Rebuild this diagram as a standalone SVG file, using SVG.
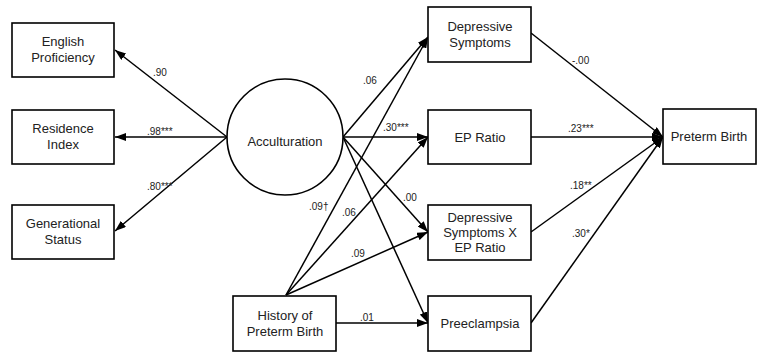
<svg xmlns="http://www.w3.org/2000/svg" width="758" height="356" viewBox="0 0 758 356">
<defs>
<marker id="ah" markerUnits="userSpaceOnUse" markerWidth="11" markerHeight="8" refX="11" refY="4" orient="auto">
<path d="M0,0 L11,4 L0,8 z" fill="#000"/>
</marker>
<style>
.box{fill:#fff;stroke:#000;stroke-width:1.6}
.lbl{font-family:"Liberation Sans",Arial,sans-serif;font-size:13px;fill:#222;text-anchor:middle}
.el{font-family:"Liberation Sans",Arial,sans-serif;font-size:10px;fill:#222}
.c{fill:none;stroke:#000;stroke-width:1.5;marker-end:url(#ah)}
</style>
</defs>
<rect width="758" height="356" fill="#fff"/>
<g id="connectors">
<line class="c" x1="227" y1="137" x2="115" y2="50"/>
<line class="c" x1="227" y1="137" x2="115" y2="137"/>
<line class="c" x1="227" y1="137" x2="115" y2="231"/>
<line class="c" x1="343" y1="137" x2="428" y2="37"/>
<line class="c" x1="343" y1="137" x2="428" y2="137"/>
<line class="c" x1="343" y1="137" x2="428" y2="232"/>
<line class="c" x1="343" y1="137" x2="428" y2="323"/>
<line class="c" x1="286" y1="295" x2="428" y2="37"/>
<line class="c" x1="286" y1="295" x2="428" y2="137"/>
<line class="c" x1="286" y1="295" x2="428" y2="232"/>
<line class="c" x1="336" y1="323" x2="428" y2="323"/>
<line class="c" x1="531" y1="33" x2="663" y2="137"/>
<line class="c" x1="531" y1="137" x2="663" y2="137"/>
<line class="c" x1="531" y1="232" x2="663" y2="137"/>
<line class="c" x1="531" y1="323" x2="663" y2="137"/>
<text class="el" x="153" y="76">.90</text>
<text class="el" x="147" y="135">.98***</text>
<text class="el" x="147" y="190">.80***</text>
<text class="el" x="363" y="84">.06</text>
<text class="el" x="383" y="131">.30***</text>
<text class="el" x="403" y="201">.00</text>
<text class="el" x="309" y="210">.09†</text>
<text class="el" x="342" y="216">.06</text>
<text class="el" x="351" y="257">.09</text>
<text class="el" x="360" y="321">.01</text>
<text class="el" x="572" y="64">-.00</text>
<text class="el" x="568" y="132">.23***</text>
<text class="el" x="570" y="189">.18**</text>
<text class="el" x="572" y="237">.30*</text>
</g>
<g id="english">
<rect class="box" x="12" y="23" width="102" height="54"/>
<text class="lbl" x="63" y="46">English</text>
<text class="lbl" x="63" y="62">Proficiency</text>
</g>
<g id="residence">
<rect class="box" x="12" y="110" width="102" height="54"/>
<text class="lbl" x="63" y="133">Residence</text>
<text class="lbl" x="63" y="149">Index</text>
</g>
<g id="generational">
<rect class="box" x="12" y="205" width="102" height="54"/>
<text class="lbl" x="63" y="228">Generational</text>
<text class="lbl" x="63" y="244">Status</text>
</g>
<g id="acculturation">
<circle class="box" cx="285" cy="137" r="58"/>
<text class="lbl" x="285" y="146">Acculturation</text>
</g>
<g id="history">
<rect class="box" x="233" y="296" width="103" height="55"/>
<text class="lbl" x="285" y="320">History of</text>
<text class="lbl" x="285" y="336">Preterm Birth</text>
</g>
<g id="depressive">
<rect class="box" x="428" y="7" width="103" height="55"/>
<text class="lbl" x="480" y="31">Depressive</text>
<text class="lbl" x="480" y="47">Symptoms</text>
</g>
<g id="epratio">
<rect class="box" x="428" y="110" width="103" height="54"/>
<text class="lbl" x="480" y="142">EP Ratio</text>
</g>
<g id="interaction">
<rect class="box" x="428" y="205" width="103" height="55"/>
<text class="lbl" x="480" y="222">Depressive</text>
<text class="lbl" x="480" y="237">Symptoms X</text>
<text class="lbl" x="480" y="252">EP Ratio</text>
</g>
<g id="preeclampsia">
<rect class="box" x="428" y="296" width="103" height="55"/>
<text class="lbl" x="480" y="328">Preeclampsia</text>
</g>
<g id="preterm">
<rect class="box" x="663" y="109" width="93" height="55"/>
<text class="lbl" x="709" y="141">Preterm Birth</text>
</g>
</svg>
